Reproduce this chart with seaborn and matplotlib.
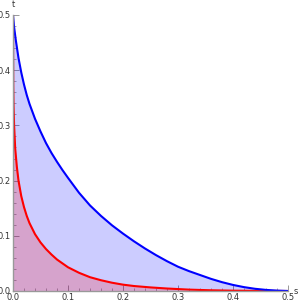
import numpy as np
import pandas as pd
import matplotlib
matplotlib.use("Agg")
import matplotlib.pyplot as plt
import seaborn as sns
from matplotlib.ticker import MultipleLocator, FormatStrFormatter

# points
blue_s = [0.0, 0.002, 0.005, 0.01, 0.015, 0.02, 0.025, 0.03, 0.04, 0.05, 0.06, 0.07,
          0.08, 0.09, 0.10, 0.12, 0.14, 0.16, 0.18, 0.20, 0.22, 0.24, 0.26, 0.28,
          0.30, 0.32, 0.34, 0.36, 0.38, 0.40, 0.42, 0.44, 0.46, 0.48, 0.5]
blue_t = [0.5, 0.478, 0.455, 0.422, 0.396, 0.374, 0.355, 0.339, 0.312, 0.289, 0.268,
          0.250, 0.234, 0.219, 0.205, 0.178, 0.155, 0.136, 0.119, 0.104, 0.090,
          0.077, 0.065, 0.054, 0.044, 0.036, 0.029, 0.022, 0.016, 0.011, 0.007,
          0.004, 0.002, 0.0007, 0.0]

red_s = [0.0, 0.0001, 0.0005, 0.001, 0.002, 0.004, 0.007, 0.01, 0.015, 0.02, 0.025,
         0.03, 0.04, 0.05, 0.06, 0.07, 0.08, 0.09, 0.10, 0.12, 0.14, 0.16, 0.18,
         0.20, 0.22, 0.25, 0.28, 0.32, 0.36, 0.40, 0.45, 0.5]
red_t = [0.5, 0.46, 0.37, 0.335, 0.300, 0.258, 0.225, 0.200, 0.172, 0.152, 0.136,
         0.123, 0.103, 0.088, 0.076, 0.066, 0.057, 0.050, 0.043, 0.033, 0.025,
         0.0195, 0.015, 0.0115, 0.009, 0.0065, 0.0045, 0.0025, 0.0013, 0.0006,
         0.0002, 0.0]

blue = pd.DataFrame({"s": blue_s, "t": blue_t})
red = pd.DataFrame({"s": red_s, "t": red_t})

sns.set_style("white")
plt.rcParams["font.family"] = ["DejaVu Sans"]

fig = plt.figure(figsize=(3.0, 3.04), dpi=100)
ax = fig.add_axes([13 / 300, 13 / 304, 275 / 300, 276 / 304])

ax.fill_between(blue["s"], 0, blue["t"], color=(0, 0, 1), alpha=0.2, lw=0)
ax.fill_between(red["s"], 0, red["t"], color=(1, 0, 0), alpha=0.2, lw=0)
sns.lineplot(data=red, x="s", y="t", sort=False, color=(1, 0, 0), lw=1.5, ax=ax)
sns.lineplot(data=blue, x="s", y="t", sort=False, color=(0, 0, 1), lw=1.5, ax=ax)

ax.set_xlim(0, 0.5)
ax.set_ylim(0, 0.5)
ax.set_xlabel("")
ax.set_ylabel("")
for side in ["top", "right"]:
    ax.spines[side].set_visible(False)
for side in ["left", "bottom"]:
    ax.spines[side].set_color("#999999")
    ax.spines[side].set_linewidth(1.0)

ax.xaxis.set_major_locator(MultipleLocator(0.1))
ax.yaxis.set_major_locator(MultipleLocator(0.1))
ax.xaxis.set_minor_locator(MultipleLocator(0.02))
ax.yaxis.set_minor_locator(MultipleLocator(0.02))
ax.tick_params(which="major", direction="in", length=4, width=0.6, color="#888888",
               labelsize=6, labelcolor="#333333", pad=1.5)
ax.tick_params(which="minor", direction="in", length=2, width=0.5, color="#888888")
ax.tick_params(axis="both", which="both", bottom=True, left=True)
ax.xaxis.set_major_formatter(FormatStrFormatter("%.1f"))
ax.yaxis.set_major_formatter(FormatStrFormatter("%.1f"))

ax.text(1.02, 0.0, "s", transform=ax.transAxes, fontsize=6, color="#333333",
        ha="left", va="center")
ax.text(0.0, 1.02, "t", transform=ax.transAxes, fontsize=6, color="#333333",
        ha="center", va="bottom")

fig.savefig("out.png", dpi=100)
